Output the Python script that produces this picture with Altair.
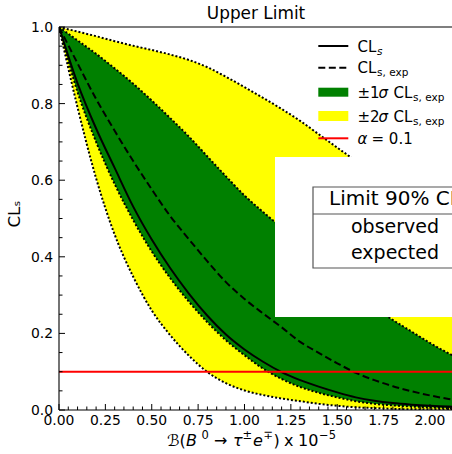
import altair as alt
import pandas as pd

# ---------------- data ----------------
X   = [0.0, 0.1, 0.2, 0.3, 0.4, 0.5, 0.6, 0.7, 0.8, 0.9, 1.0, 1.1,
       1.2, 1.3, 1.4, 1.5, 1.6, 1.7, 1.8, 1.9, 2.0, 2.1, 2.2]
OBS = [1.0, 0.853, 0.735, 0.632, 0.531, 0.445, 0.370, 0.304, 0.246, 0.197, 0.158, 0.126,
       0.099, 0.078, 0.061, 0.046, 0.033, 0.024, 0.018, 0.014, 0.011, 0.009, 0.008]
EXP = [1.0, 0.905, 0.812, 0.729, 0.650, 0.576, 0.506, 0.446, 0.388, 0.334, 0.290, 0.252,
       0.216, 0.178, 0.149, 0.122, 0.097, 0.078, 0.062, 0.049, 0.038, 0.029, 0.023]
M2  = [1.0, 0.790, 0.605, 0.458, 0.348, 0.260, 0.195, 0.142, 0.099, 0.070, 0.051, 0.039,
       0.030, 0.023, 0.016, 0.011, 0.007, 0.005, 0.003, 0.002, 0.002, 0.001, 0.001]
M1  = [1.0, 0.830, 0.700, 0.590, 0.496, 0.414, 0.344, 0.283, 0.229, 0.182, 0.143, 0.108,
       0.081, 0.060, 0.045, 0.033, 0.023, 0.016, 0.012, 0.009, 0.007, 0.005, 0.004]
P1  = [1.0, 0.965, 0.930, 0.892, 0.852, 0.808, 0.762, 0.714, 0.662, 0.610, 0.560, 0.517,
       0.476, 0.433, 0.388, 0.343, 0.302, 0.267, 0.235, 0.205, 0.175, 0.148, 0.125]
P2  = [1.0, 0.988, 0.976, 0.963, 0.951, 0.940, 0.928, 0.914, 0.895, 0.870, 0.843, 0.815,
       0.786, 0.755, 0.720, 0.685, 0.650, 0.610, 0.570, 0.530, 0.490, 0.450, 0.410]
ALPHA = 0.1

X_MAJOR = [0.0, 0.25, 0.5, 0.75, 1.0, 1.25, 1.5, 1.75, 2.0]
X_MINOR = [0.05, 0.1, 0.15, 0.2, 0.3, 0.35, 0.4, 0.45, 0.55, 0.6, 0.65, 0.7, 0.8, 0.85,
           0.9, 0.95, 1.05, 1.1, 1.15, 1.2, 1.3, 1.35, 1.4, 1.45, 1.55, 1.6, 1.65, 1.7,
           1.8, 1.85, 1.9, 1.95, 2.05, 2.1]
Y_MAJOR = [0.0, 0.2, 0.4, 0.6, 0.8, 1.0]
Y_MINOR = [0.05, 0.1, 0.15, 0.25, 0.3, 0.35, 0.45, 0.5, 0.55, 0.65, 0.7, 0.75, 0.85, 0.9, 0.95]

TITLE = "Upper Limit"
TABLE_HEAD = "Limit 90% CL"
TABLE_ROWS = ["observed", "expected"]

# ---------------- layout ----------------
W, H = 393, 383
XMAX = 2.1186
FONT = "DejaVu Sans"

xsc = alt.Scale(domain=[0, XMAX], nice=False, zero=False)
ysc = alt.Scale(domain=[0, 1], nice=False, zero=False)

df = pd.DataFrame({"x": X, "obs": OBS, "exp": EXP, "m2": M2, "m1": M1, "p1": P1, "p2": P2})
edges = pd.concat([pd.DataFrame({"x": X, "v": s, "band": n})
                   for n, s in [("m2", M2), ("m1", M1), ("p1", P1), ("p2", P2)]])
dummy = pd.DataFrame({"k": [0]})

def X_(f):
    return alt.X(f, scale=xsc, axis=None)

def Y_(f):
    return alt.Y(f, scale=ysc, axis=None)

band2 = alt.Chart(df).mark_area(color="#ffff00", interpolate="monotone", clip=True).encode(
    x=X_("x:Q"), y=Y_("m2:Q"), y2="p2:Q")
band1 = alt.Chart(df).mark_area(color="#008000", interpolate="monotone", clip=True).encode(
    x=X_("x:Q"), y=Y_("m1:Q"), y2="p1:Q")
dotted = alt.Chart(edges).mark_line(color="black", strokeDash=[2, 2], strokeWidth=2,
                                    interpolate="monotone", clip=True).encode(
    x=X_("x:Q"), y=Y_("v:Q"), detail="band:N")
expl = alt.Chart(df).mark_line(color="black", strokeDash=[7, 3.5], strokeWidth=2,
                               interpolate="monotone", clip=True).encode(
    x=X_("x:Q"), y=Y_("exp:Q"))
obsl = alt.Chart(df).mark_line(color="black", strokeWidth=2,
                               interpolate="monotone", clip=True).encode(
    x=X_("x:Q"), y=Y_("obs:Q"))
red = alt.Chart(pd.DataFrame({"a": [ALPHA]})).mark_rule(color="#ff0000", strokeWidth=2).encode(
    y=Y_("a:Q"))

def txt(s, x, y, size=15, align="left", style="normal", angle=None):
    kw = dict(text=s, align=align, baseline="alphabetic", font=FONT, fontSize=size,
              color="black", fontStyle=style)
    if angle is not None:
        kw["angle"] = angle
    return alt.Chart(dummy).mark_text(**kw).encode(x=alt.value(x), y=alt.value(y))

def rect(x, x2, y, y2, fill, stroke=None, sw=0):
    kw = dict(fill=fill)
    if stroke is not None:
        kw.update(stroke=stroke, strokeWidth=sw)
    return alt.Chart(dummy).mark_rect(**kw).encode(
        x=alt.value(x), x2=alt.value(x2), y=alt.value(y), y2=alt.value(y2))

def hline(x, x2, y, color="black", sw=2, dash=None):
    kw = dict(color=color, strokeWidth=sw)
    if dash is not None:
        kw["strokeDash"] = dash
    return alt.Chart(dummy).mark_rule(**kw).encode(
        x=alt.value(x), x2=alt.value(x2), y=alt.value(y))

# table overlay
white_box = rect(216, 430, 130, 290, "white")
table_box = rect(254, 440, 160, 241, "white", "#555555", 1.2)
table_sep = hline(254, 440, 187, "#555555", 1.2)
t_head = txt(TABLE_HEAD, 270, 178, 20, "left")
t_r1 = txt(TABLE_ROWS[0], 336, 206, 19, "center")
t_r2 = txt(TABLE_ROWS[1], 336, 232, 19, "center")

# legend
LX1, LX2 = 259.3, 289.3
TX = 298.5
leg = [
    hline(LX1, LX2, 19),
    hline(LX1, LX2, 40.7, dash=[7, 3.5]),
    rect(LX1, LX2, 60.7, 69.7, "#008000"),
    rect(LX1, LX2, 84, 94, "#ffff00"),
    hline(LX1, LX2, 111.3, "#ff0000"),
    txt("CL", TX, 24.5), txt("s", TX + 19.5, 27.5, 10.5, style="italic"),
    txt("CL", TX, 46.2), txt("s, exp", TX + 19.5, 49.2, 10.5),
    txt("±1", TX, 71), txt("σ", TX + 21, 71, style="italic"), txt("CL", TX + 36, 71),
    txt("s, exp", TX + 55.5, 74, 10.5),
    txt("±2", TX, 94.5), txt("σ", TX + 21, 94.5, style="italic"), txt("CL", TX + 36, 94.5),
    txt("s, exp", TX + 55.5, 97.5, 10.5),
    txt("α", TX, 117, style="italic"), txt("= 0.1", TX + 14, 117),
]

# ticks, tick labels and spines
def vtick(vals, length):
    return alt.Chart(pd.DataFrame({"t": vals})).mark_rule(color="black", strokeWidth=1).encode(
        y=Y_("t:Q"), x=alt.value(0), x2=alt.value(length))

def htick(vals, length):
    return alt.Chart(pd.DataFrame({"t": vals})).mark_rule(color="black", strokeWidth=1).encode(
        x=X_("t:Q"), y=alt.value(H), y2=alt.value(H - length))

xlab = alt.Chart(pd.DataFrame({"t": X_MAJOR})).mark_text(
    align="center", baseline="alphabetic", font=FONT, fontSize=13.9, color="black").encode(
    x=X_("t:Q"), y=alt.value(H + 14.5), text=alt.Text("t:Q", format=".2f"))
ylab = alt.Chart(pd.DataFrame({"t": Y_MAJOR})).mark_text(
    align="right", baseline="alphabetic", dy=5, font=FONT, fontSize=13.9, color="black").encode(
    y=Y_("t:Q"), x=alt.value(-6), text=alt.Text("t:Q", format=".1f"))

sp_left = alt.Chart(dummy).mark_rule(color="black", strokeWidth=1.1).encode(
    x=alt.value(0), y=alt.value(0), y2=alt.value(H))
sp_bottom = hline(0, W + 20, H, "black", 1.1)
sp_top = hline(0, W + 20, 0, "black", 1.1)

# titles
title = txt(TITLE, 197, -8, 16.9, "center")
ytitle = txt("CLₛ", -39, 187, 16.7, "center", angle=270)
XB = -59
BY, SY = 419, 412
xt_parts = [
    txt("ℬ(", XB + 167, BY, 16),
    txt("B", XB + 186, BY, 16, style="italic"),
    txt("0", XB + 201.5, SY, 11.5),
    txt("→", XB + 214, BY, 16),
    txt("τ", XB + 233, BY, 16, style="italic"),
    txt("±", XB + 242.5, SY, 11.5),
    txt("e", XB + 253, BY, 16, style="italic"),
    txt("∓", XB + 263.5, SY, 11.5),
    txt(")", XB + 273.5, BY, 16),
    txt("x", XB + 284, BY, 16),
    txt("10", XB + 298, BY, 16),
    txt("−5", XB + 319, SY, 11.5),
]

chart = alt.layer(
    band2, band1, dotted, expl, obsl, red,
    white_box, table_box, table_sep, t_head, t_r1, t_r2,
    *leg,
    vtick(Y_MAJOR, 6), vtick(Y_MINOR, 3.5), htick(X_MAJOR, 6), htick(X_MINOR, 3.5),
    sp_left, sp_bottom, sp_top, xlab, ylab,
    title, ytitle, *xt_parts,
).properties(
    width=W, height=H,
    autosize=alt.AutoSizeParams(type="none"),
    padding={"left": 59, "top": 27, "right": 0, "bottom": 44},
).configure_view(stroke=None)

chart.save("out.html", embed_options={"renderer": "svg", "actions": False})
